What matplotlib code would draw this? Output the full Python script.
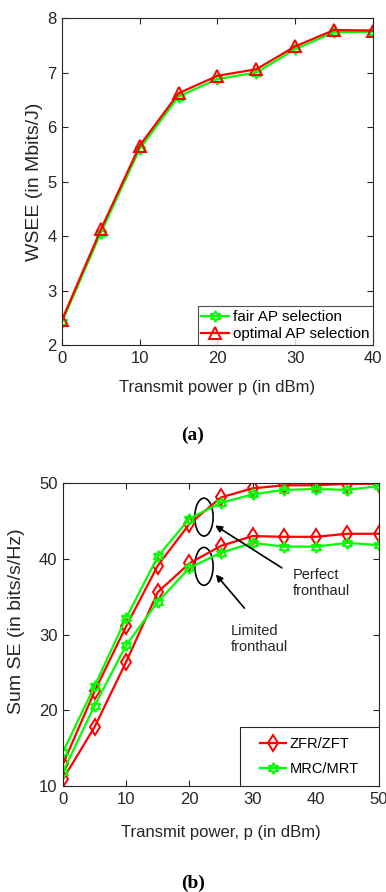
import matplotlib.pyplot as plt
from matplotlib.patches import Ellipse, Rectangle

plt.rcParams['font.family'] = ['Liberation Sans', 'DejaVu Sans']

# (a) WSEE vs transmit power
p_a = [0, 5, 10, 15, 20, 25, 30, 35, 40]
wsee_fair = [2.42, 4.06, 5.60, 6.56, 6.88, 7.00, 7.43, 7.74, 7.75]
wsee_opt = [2.46, 4.12, 5.66, 6.62, 6.94, 7.06, 7.48, 7.78, 7.77]

# (b) Sum SE vs transmit power
p_b = [0, 5, 10, 15, 20, 25, 30, 35, 40, 45, 50]
zf_perfect = [12.9, 22.5, 31.1, 39.1, 44.6, 48.1, 49.3, 49.7, 49.7, 49.9, 49.9]
mr_perfect = [14.5, 23.2, 32.2, 40.3, 45.3, 47.4, 48.5, 49.1, 49.2, 49.1, 49.6]
zf_limited = [10.9, 17.8, 26.4, 35.6, 39.4, 41.7, 43.0, 42.9, 42.9, 43.3, 43.3]
mr_limited = [11.9, 20.6, 28.6, 34.3, 38.8, 40.8, 42.1, 41.6, 41.6, 42.1, 41.8]

red = (1, 0, 0)
green = (0, 1, 0)
dark = (0.15, 0.15, 0.15)
star6 = (6, 1, 0)

fig = plt.figure(figsize=(3.86, 8.92), dpi=100)


def style_axes(ax):
    for s in ax.spines.values():
        s.set_color(dark)
        s.set_linewidth(0.8)
    ax.tick_params(direction='in', top=True, right=True, colors=dark,
                   labelsize=12, length=4, width=0.8, pad=4)


# ---- panel (a)
ax1 = fig.add_axes([0.1606, 0.6132, 0.8057, 0.3666])
ax1.plot(p_a, wsee_fair, color=green, lw=1.6, marker=star6, ms=8,
         mfc='none', mec=green, mew=1.4, label='fair AP selection')
ax1.plot(p_a, wsee_opt, color=red, lw=1.6, marker='^', ms=8,
         mfc='none', mec=red, mew=1.4, label='optimal AP selection')
ax1.set_xlim(0, 40)
ax1.set_ylim(2, 8)
ax1.set_xticks([0, 10, 20, 30, 40])
ax1.set_yticks([2, 3, 4, 5, 6, 7, 8])
style_axes(ax1)
ax1.set_xlabel('Transmit power p (in dBm)', fontsize=12, color=dark)
ax1.set_ylabel('WSEE (in Mbits/J)', fontsize=14, color=dark)
ax1.xaxis.set_label_coords(0.5, -0.107)
ax1.yaxis.set_label_coords(-0.061, 0.5)
leg1 = ax1.legend(loc='lower right', fontsize=11, frameon=True, fancybox=False,
                  edgecolor=dark, borderaxespad=0, handlelength=1.8,
                  handletextpad=0.25, borderpad=0.25, labelspacing=0.2)
leg1.get_frame().set_linewidth(0.8)
fig.text(0.5, 1 - 435 / 892, '(a)', ha='center', va='center', fontsize=14,
         fontweight='bold', family='Liberation Serif')

# ---- panel (b)
ax2 = fig.add_axes([0.1632, 0.1188, 0.8187, 0.3397])
ax2.plot(p_b, zf_perfect, color=red, lw=1.6, marker='d', ms=8,
         mfc='none', mec=red, mew=1.4, label='ZFR/ZFT')
ax2.plot(p_b, mr_perfect, color=green, lw=1.6, marker=star6, ms=8,
         mfc='none', mec=green, mew=1.4, label='MRC/MRT')
ax2.plot(p_b, zf_limited, color=red, lw=1.6, marker='d', ms=8,
         mfc='none', mec=red, mew=1.4)
ax2.plot(p_b, mr_limited, color=green, lw=1.6, marker=star6, ms=8,
         mfc='none', mec=green, mew=1.4)
ax2.set_xlim(0, 50)
ax2.set_ylim(10, 50)
ax2.set_xticks([0, 10, 20, 30, 40, 50])
ax2.set_yticks([10, 20, 30, 40, 50])
style_axes(ax2)
ax2.set_xlabel('Transmit power, p (in dBm)', fontsize=12, color=dark)
ax2.set_ylabel('Sum SE (in bits/s/Hz)', fontsize=14, color=dark)
ax2.xaxis.set_label_coords(0.5, -0.129)
ax2.yaxis.set_label_coords(-0.120, 0.545)

# legend box drawn separately (MATLAB leaves wide side padding)
ax2.add_patch(Rectangle((0.560, 0.0), 0.440, 0.195, transform=ax2.transAxes,
                        fill=True, fc='white', ec=dark, lw=0.8, zorder=4))
leg2 = ax2.legend(loc='center', bbox_to_anchor=(0.78, 0.0975), fontsize=10.5,
                  frameon=False, handlelength=1.8, handletextpad=0.25,
                  borderpad=0.0, labelspacing=0.75)
leg2.set_zorder(5)

ax2.add_patch(Ellipse((22.3, 45.5), 2.9, 5.0, fill=False, ec='black', lw=1.2))
ax2.add_patch(Ellipse((22.3, 39.0), 2.9, 5.0, fill=False, ec='black', lw=1.2))
ax2.annotate('', xy=(23.7, 44.6), xytext=(35.0, 38.6),
             arrowprops=dict(arrowstyle='-|>', color='black', lw=1.2,
                             mutation_scale=10))
ax2.annotate('', xy=(23.9, 38.2), xytext=(29.0, 33.2),
             arrowprops=dict(arrowstyle='-|>', color='black', lw=1.2,
                             mutation_scale=10))
ax2.text(36.3, 36.8, 'Perfect\nfronthaul', fontsize=10.5, color=dark,
         ha='left', va='center', linespacing=1.2)
ax2.text(26.6, 29.4, 'Limited\nfronthaul', fontsize=10.5, color=dark,
         ha='left', va='center', linespacing=1.2)

fig.text(0.5, 1 - 883 / 892, '(b)', ha='center', va='center', fontsize=14,
         fontweight='bold', family='Liberation Serif')

fig.savefig('out.png', dpi=100)
